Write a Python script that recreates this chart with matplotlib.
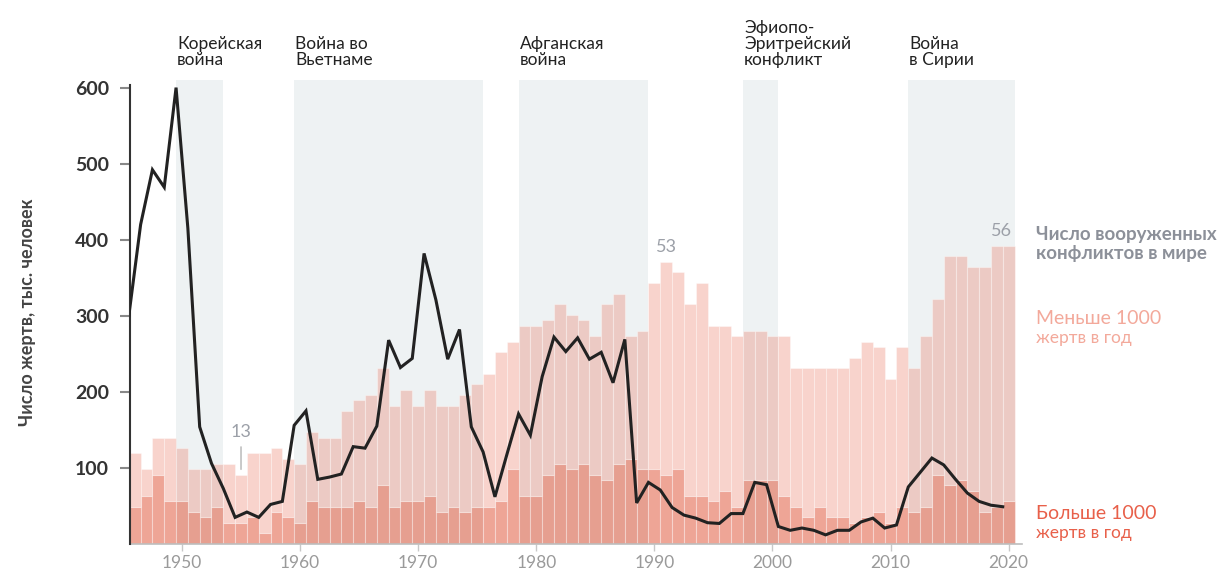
import matplotlib
matplotlib.use("Agg")
import matplotlib.pyplot as plt
import numpy as np

years = list(range(1946, 2021))
conflicts_total = [17, 14, 20, 20, 18, 14, 14, 15, 15, 13,
                   17, 17, 18, 16, 15, 21, 20, 20, 25, 27,
                   28, 33, 26, 29, 26, 29, 26, 26, 28, 30,
                   32, 36, 38, 41, 41, 42, 45, 43, 42, 39,
                   45, 47, 39, 40, 49, 53, 51, 45, 49, 41,
                   41, 39, 40, 40, 39, 39, 33, 33, 33, 33,
                   33, 35, 38, 37, 31, 37, 33, 39, 46, 54,
                   54, 52, 52, 56, 56]
conflicts_major = [7, 9, 13, 8, 8, 6, 5, 7, 4, 4,
                   5, 2, 6, 5, 4, 8, 7, 7, 7, 8,
                   7, 11, 7, 8, 8, 9, 6, 7, 6, 7,
                   7, 8, 14, 9, 9, 13, 15, 14, 15, 13,
                   12, 15, 16, 14, 14, 13, 14, 9, 9, 8,
                   10, 7, 12, 12, 12, 9, 7, 5, 7, 5,
                   5, 4, 5, 6, 4, 7, 6, 7, 13, 11,
                   12, 10, 6, 7, 8]
deaths = [300, 420, 492, 469, 600, 415, 154, 106, 73, 35,
          42, 35, 52, 56, 156, 175, 85, 88, 92, 128,
          126, 155, 268, 232, 244, 382, 321, 243, 282, 154,
          121, 62, 117, 171, 143, 220, 272, 253, 271, 243,
          252, 212, 269, 54, 81, 71, 48, 38, 34, 28,
          27, 40, 40, 81, 78, 23, 18, 21, 18, 12,
          18, 18, 29, 34, 21, 25, 75, 94, 113, 104,
          85, 67, 56, 51, 49]

wars = ["Корейская\nвойна", "Война во\nВьетнаме", "Афганская\nвойна",
        "Эфиопо-\nЭритрейский\nконфликт", "Война\nв Сирии"]
war_start = [1950, 1960, 1979, 1998, 2012]
war_end = [1953, 1975, 1989, 2000, 2020]

yticks = [100, 200, 300, 400, 500, 600]
xticks = [1950, 1960, 1970, 1980, 1990, 2000, 2010, 2020]
annot_years = [1955, 1991, 2019.4]
annot_vals = [13, 53, 56]

SCALE = 7.0  # 1 conflict = 7 thousand on the deaths scale
YMAX = 610

plt.rcParams['font.family'] = ['Lato', 'DejaVu Sans']

W, H = 1226, 578
fig = plt.figure(figsize=(W / 100, H / 100), dpi=100)
x0px, x1px = 130, 1022
ax = fig.add_axes([x0px / W, (H - 544) / H, (x1px - x0px) / W, (544 - 80) / H])
XL = (1945.6, 1945.6 + (x1px - x0px) / 11.81)
ax.set_xlim(*XL)
ax.set_ylim(0, YMAX / SCALE)

# war shading
for s, e in zip(war_start, war_end):
    ax.axvspan(s - 0.5, e + 0.5, color="#eef2f3", zorder=0, lw=0)

yrs = np.array(years)
tot = np.array(conflicts_total)
maj = np.array(conflicts_major)
dark_fc = (224 / 255, 91 / 255, 64 / 255, 0.55)
light_fc = (235 / 255, 129 / 255, 109 / 255, 0.35)
edge = (1, 1, 1, 0.35)
ax.bar(yrs, maj, width=1.0, color=dark_fc, edgecolor=edge, linewidth=0.8, zorder=2)
ax.bar(yrs, tot - maj, bottom=maj, width=1.0, color=light_fc, edgecolor=edge,
       linewidth=0.8, zorder=2)

ax.set_yticks([])
for sp in ["top", "right", "left"]:
    ax.spines[sp].set_visible(False)
ax.spines["bottom"].set_color("#bdbdbd")
ax.spines["bottom"].set_linewidth(1.2)
ax.set_xticks(xticks)
ax.set_xticklabels([str(x) for x in xticks], fontsize=12.5, color="#9a9a9a")
ax.tick_params(axis="x", length=5, width=1, color="#c8c8c8", pad=3)

# annotations
gray = "#9ca0a8"
for yv, v in zip(annot_years, annot_vals):
    if v == 13:
        ax.annotate(str(v), xy=(yv, v), xytext=(0, 25), textcoords="offset points",
                    ha="center", va="bottom", fontsize=13, color=gray,
                    arrowprops=dict(arrowstyle="-", color="#c0c0c0", lw=1.2,
                                    shrinkA=3, shrinkB=4))
    else:
        ax.annotate(str(v), xy=(yv, v), xytext=(0, 5), textcoords="offset points",
                    ha="center", va="bottom", fontsize=13, color=gray)

# deaths line on twin axis
ax2 = ax.twinx()
ax2.set_ylim(0, YMAX)
ax2.set_xlim(*XL)
ax2.plot(yrs - 0.5, deaths, color="#222222", lw=2.2, zorder=5, solid_joinstyle="miter")
ax2.yaxis.tick_left()
ax2.yaxis.set_label_position("left")
ax2.set_yticks(yticks)
ax2.set_yticklabels([str(y) for y in yticks], fontsize=14, fontweight="bold", color="#333333")
ax2.tick_params(axis="y", length=7, width=1.5, color="#888888", pad=8)
for sp in ["top", "right", "bottom"]:
    ax2.spines[sp].set_visible(False)
ax2.spines["left"].set_visible(True)
ax2.spines["left"].set_color("#333333")
ax2.spines["left"].set_linewidth(1.5)
ax2.spines["left"].set_bounds(0, 604)
ax2.set_ylabel("Число жертв, тыс. человек", fontsize=13, fontweight="bold",
               color="#444444", labelpad=28)

# war labels
for lab, s in zip(wars, war_start):
    ax.text(s - 0.4, 1.0 + 12 / 464, lab, transform=ax.get_xaxis_transform(),
            ha="left", va="bottom", fontsize=12.5, color="#222222",
            linespacing=1.0)

# right legend labels
fig.text(1036 / W, 1 - 226 / H, "Число вооруженных\nконфликтов в мире", fontsize=13.5,
         fontweight="bold", color="#8c9099", ha="left", va="top", linespacing=1.15)
fig.text(1036 / W, 1 - 310 / H, "Меньше 1000", fontsize=14, color="#f3a99b",
         ha="left", va="top")
fig.text(1036 / W, 1 - 330 / H, "жертв в год", fontsize=12.5, color="#f3a99b",
         ha="left", va="top")
fig.text(1036 / W, 1 - 505 / H, "Больше 1000", fontsize=14, color="#e8604a",
         ha="left", va="top")
fig.text(1036 / W, 1 - 525 / H, "жертв в год", fontsize=12.5, color="#e8604a",
         ha="left", va="top")

fig.savefig("out.png", dpi=100)
